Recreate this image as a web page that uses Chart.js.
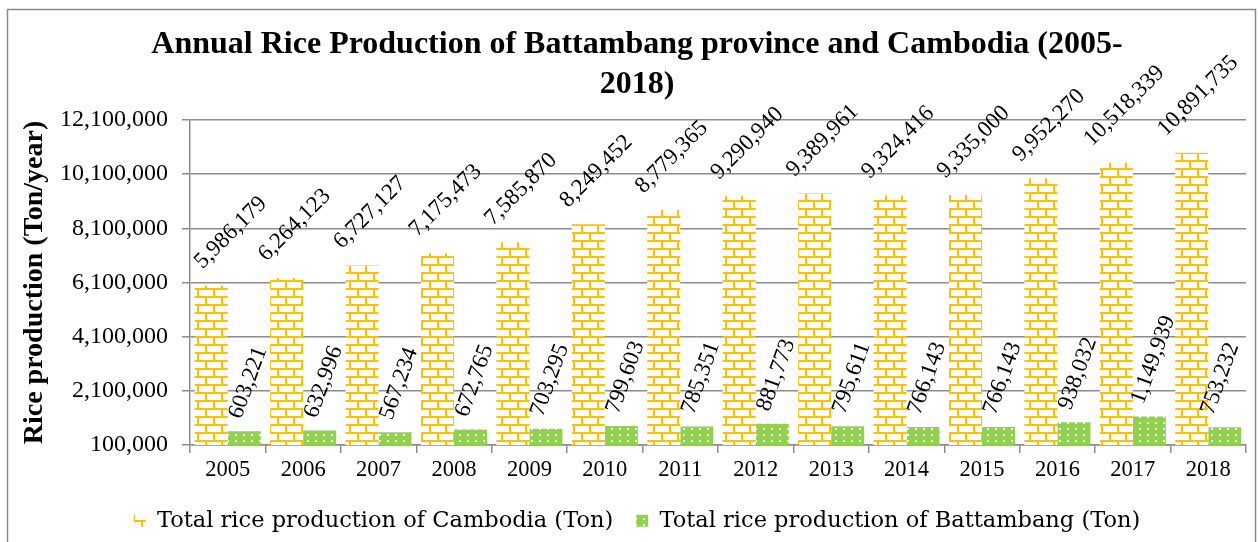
<!DOCTYPE html>
<html>
<head>
<meta charset="utf-8">
<script src="https://cdn.jsdelivr.net/npm/chart.js@4.4.0/dist/chart.umd.min.js"></script>
<style>
  html, body { margin: 0; padding: 0; background: #fff; }
  #wrap { width: 1258px; height: 542px; position: relative; }
</style>
</head>
<body>
<div id="wrap"><canvas id="riceChart" width="1258" height="542"></canvas></div>
<script>
// data
const years = ['2005', '2006', '2007', '2008', '2009', '2010', '2011', '2012', '2013', '2014', '2015', '2016', '2017', '2018'];
const cambodiaTon = [5986179, 6264123, 6727127, 7175473, 7585870, 8249452, 8779365, 9290940, 9389961, 9324416, 9335000, 9952270, 10518339, 10891735];
const battambangTon = [603221, 632996, 567234, 672765, 703295, 799603, 785351, 881773, 795611, 766143, 766143, 938032, 1149939, 753232];
const yTicks = { min: 100000, max: 12100000, step: 2000000 };

const serif = "'Liberation Serif', 'Times New Roman', serif";
const gridGray = '#8c8c8c';

// brick fill, like the Excel "horizontal brick" pattern
function brickPattern() {
    const c = document.createElement('canvas');
    c.width = 16; c.height = 16;
    const g = c.getContext('2d');
    g.fillStyle = '#fff';
    g.fillRect(0, 0, 16, 16);
    g.fillStyle = '#FFC000';
    g.fillRect(0, 0, 16, 2);
    g.fillRect(0, 8, 16, 2);
    g.fillRect(5, 2, 2, 6);
    g.fillRect(13, 10, 2, 6);
    return g.createPattern(c, 'repeat');
}

// green fill with small white dots
function dotPattern() {
    const c = document.createElement('canvas');
    c.width = 8; c.height = 6;
    const g = c.getContext('2d');
    g.fillStyle = '#92D050';
    g.fillRect(0, 0, 8, 6);
    g.fillStyle = 'rgba(255,255,255,0.9)';
    g.fillRect(3, 2, 2, 2);
    return g.createPattern(c, 'repeat');
}

// value labels, rotated like the original.
// the rotated box is centred (plus shift) over the bar and kept inside the plot
const labelStyle = [
    { angle: -45, shift: 8, gap: 15 },
    { angle: -70, shift: 4, gap: 11 }
];
const labelLimits = { left: 193, right: 1240 };
const barLabels = {
    id: 'barLabels',
    afterDatasetsDraw(chart) {
        const ctx = chart.ctx;
        const h = 15;
        ctx.save();
        ctx.font = '23px ' + serif;
        ctx.fillStyle = '#000';
        ctx.textAlign = 'left';
        ctx.textBaseline = 'middle';
        chart.data.datasets.forEach((ds, i) => {
            const st = labelStyle[i];
            const a = st.angle * Math.PI / 180;
            const cos = Math.cos(a), sin = Math.sin(a);
            chart.getDatasetMeta(i).data.forEach((bar, j) => {
                const txt = ds.data[j].toLocaleString('en-US');
                const w = ctx.measureText(txt).width;
                // corners of the text box, rotated round its left-middle point
                const pts = [[0, -h / 2], [w, -h / 2], [0, h / 2], [w, h / 2]]
                    .map(([px, py]) => [px * cos - py * sin, px * sin + py * cos]);
                const xs = pts.map(p => p[0]), ys = pts.map(p => p[1]);
                const minX = Math.min(...xs), maxX = Math.max(...xs), maxY = Math.max(...ys);
                let ax = bar.x + st.shift - (minX + maxX) / 2;
                if (ax + minX < labelLimits.left) ax = labelLimits.left - minX;
                if (ax + maxX > labelLimits.right) ax = labelLimits.right - maxX;
                const ay = bar.y - st.gap - maxY;
                ctx.save();
                ctx.translate(ax, ay);
                ctx.rotate(a);
                ctx.fillText(txt, 0, 0);
                ctx.restore();
            });
        });
        ctx.restore();
    }
};

// grey frame round the whole chart
const frame = {
    id: 'frame',
    beforeDraw(chart) {
        const ctx = chart.ctx;
        ctx.save();
        ctx.fillStyle = '#fff';
        ctx.fillRect(0, 0, chart.width, chart.height);
        ctx.strokeStyle = '#8a8a8a';
        ctx.lineWidth = 1.5;
        ctx.strokeRect(7.5, 9.5, 1248, 545);
        ctx.restore();
    }
};

Chart.defaults.color = '#000';

new Chart(document.getElementById('riceChart'), {
    type: 'bar',
    data: {
        labels: years,
        datasets: [{
            label: 'Total rice production of Cambodia (Ton)',
            data: cambodiaTon,
            backgroundColor: brickPattern(),
            borderWidth: 0,
            categoryPercentage: 0.875,
            barPercentage: 1.0
        }, {
            label: 'Total rice production of Battambang (Ton)',
            data: battambangTon,
            backgroundColor: dotPattern(),
            borderWidth: 0,
            categoryPercentage: 0.875,
            barPercentage: 1.0
        }]
    },
    options: {
        responsive: false,
        animation: false,
        layout: { padding: { left: 28, right: 12, top: 0, bottom: 0 } },
        plugins: {
            title: {
                display: true,
                text: ['Annual Rice Production of Battambang province and Cambodia (2005-', '2018)'],
                font: { family: serif, size: 32, weight: 'bold', lineHeight: 1.25 },
                color: '#000',
                padding: { top: 25, bottom: 15 }
            },
            legend: {
                position: 'bottom',
                labels: {
                    font: { family: "'DejaVu Serif', serif", size: 22.5 },
                    boxWidth: 12,
                    boxHeight: 12,
                    padding: 23,
                    color: '#000'
                }
            },
            tooltip: { enabled: false }
        },
        scales: {
            x: {
                grid: { display: true, drawOnChartArea: false, color: gridGray, lineWidth: 1.5, tickLength: 8 },
                border: { color: gridGray, width: 1.5 },
                ticks: { font: { family: serif, size: 22.5 }, padding: 4 },
                afterFit(scale) { scale.height = 41.5; }
            },
            y: {
                min: yTicks.min,
                max: yTicks.max,
                grid: { color: gridGray, lineWidth: 1.5, tickLength: 8 },
                border: { color: gridGray, width: 1.5 },
                ticks: {
                    stepSize: yTicks.step,
                    font: { family: serif, size: 24 },
                    padding: 14,
                    callback: v => v.toLocaleString('en-US')
                },
                title: {
                    display: true,
                    text: 'Rice production (Ton/year)',
                    font: { family: serif, size: 28, weight: 'bold' },
                    padding: { top: -10, bottom: 0 }
                },
                afterFit(scale) { scale.width = 162; }
            }
        }
    },
    plugins: [frame, barLabels]
});
</script>
</body>
</html>
